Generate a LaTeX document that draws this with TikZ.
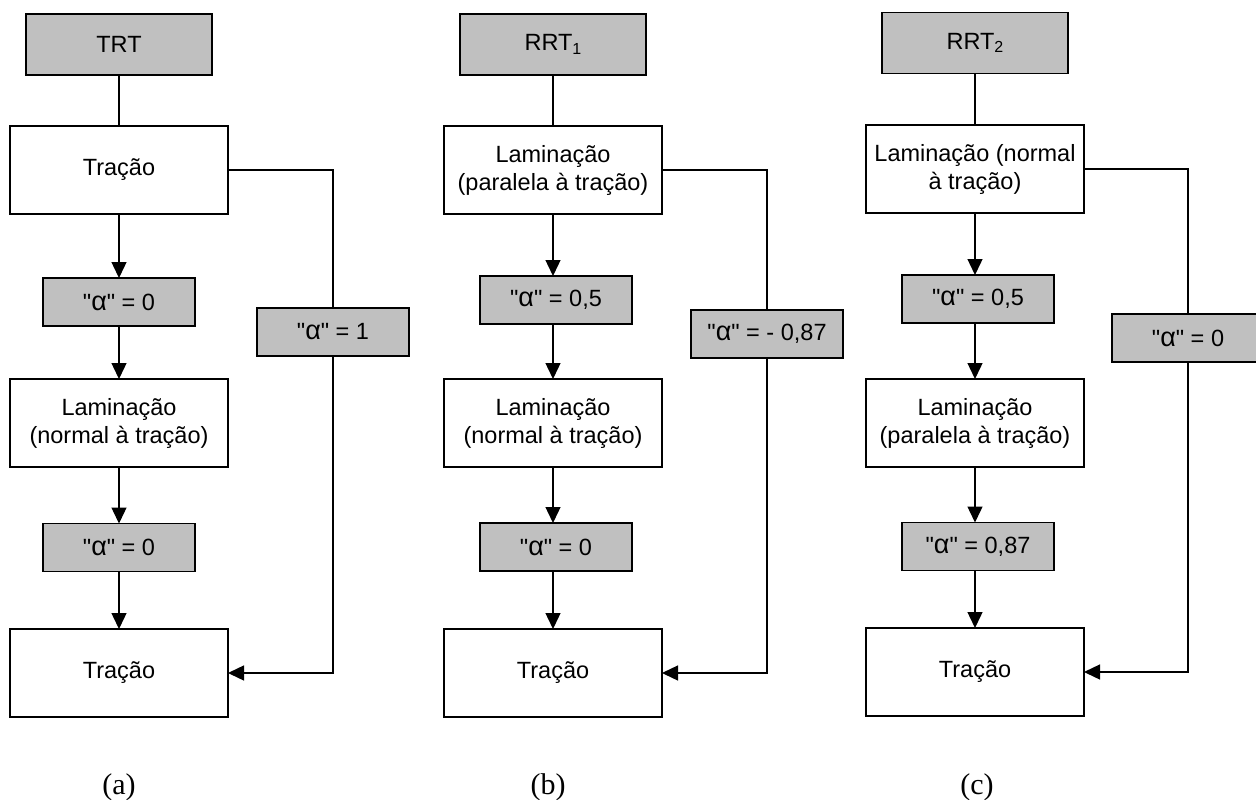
\documentclass[tikz,border=0pt]{standalone}
\usepackage{fontspec}
\setmainfont{Liberation Sans}
\newfontfamily\capfont{Liberation Serif}
\usetikzlibrary{arrows.meta}
\definecolor{boxgray}{HTML}{C0C0C0}
\newcommand{\qalpha}{\textquotedbl{\fontsize{27}{28}\selectfont α}\textquotedbl}
\newcommand{\subidx}[1]{\raisebox{-0.28ex}{\fontsize{16}{16}\selectfont #1}}
\tikzset{
  base/.style={draw=black, line width=1.6pt, inner sep=0pt, outer sep=0pt, align=center,
    font=\fontsize{23.5}{28}\selectfont},
  headbox/.style={base, fill=boxgray, minimum width=186pt, minimum height=61pt},
  procbox/.style={base, fill=white, minimum width=218pt, minimum height=88pt},
  alphabox/.style={base, fill=boxgray, minimum width=152pt, minimum height=48pt},
  conn/.style={line width=1.4pt},
  arr/.style={conn, -{Triangle[length=16pt,width=15pt]}},
  caplabel/.style={anchor=base, font=\capfont\fontsize{30}{34}\selectfont, inner sep=0pt}
}
\begin{document}
\begin{tikzpicture}[x=1pt,y=-1pt]
\useasboundingbox (0,0) rectangle (1256,800);
% ---------- panel (a)
\node[headbox]  (aH)  at (119,44.5) {TRT};
\node[procbox]  (aT1) at (119,170)  {Tração};
\node[alphabox] (aA1) at (119,302)  {\qalpha\ = 0};
\node[alphabox] (aS)  at (333,332)  {\qalpha\ = 1};
\node[procbox]  (aL)  at (119,423)  {Laminação\\(normal à tração)};
\node[alphabox] (aA2) at (119,547.5){\qalpha\ = 0};
\node[procbox]  (aT2) at (119,673)  {Tração};
\draw[conn] (aH) -- (aT1);
\draw[arr] (aT1) -- (aA1);
\draw[arr] (aA1) -- (aL);
\draw[arr] (aL) -- (aA2);
\draw[arr] (aA2) -- (aT2);
\draw[conn] (aT1.east) -| (aS.north);
\draw[arr] (aS.south) |- (aT2.east);
\node[caplabel] (la) at (119,794) {(a)};
% ---------- panel (b)
\node[headbox]  (bH)  at (553,44.5) {RRT\subidx{1}};
\node[procbox]  (bL1) at (553,170)  {Laminação\\(paralela à tração)};
\node[alphabox] (bA1) at (556,300)  {\qalpha\ = 0,5};
\node[alphabox] (bS)  at (767,334)  {\qalpha\ = - 0,87};
\node[procbox]  (bL2) at (553,423)  {Laminação\\(normal à tração)};
\node[alphabox] (bA2) at (556,547)  {\qalpha\ = 0};
\node[procbox]  (bT)  at (553,673)  {Tração};
\draw[conn] (bH) -- (bL1);
\draw[arr] (bL1) -- (bL1 |- bA1.north);
\draw[arr] (bA1.south -| bL1) -- (bL2);
\draw[arr] (bL2) -- (bL2 |- bA2.north);
\draw[arr] (bA2.south -| bL2) -- (bT);
\draw[conn] (bL1.east) -| (bS.north);
\draw[arr] (bS.south) |- (bT.east);
\node[caplabel] (lb) at (548,794) {(b)};
% ---------- panel (c)
\node[headbox]  (cH)  at (975,43)  {RRT\subidx{2}};
\node[procbox]  (cL1) at (975,169) {Laminação (normal\\à tração)};
\node[alphabox] (cA1) at (978,299) {\qalpha\ = 0,5};
\node[alphabox] (cS)  at (1188,338){\qalpha\ = 0};
\node[procbox]  (cL2) at (975,423) {Laminação\\(paralela à tração)};
\node[alphabox] (cA2) at (978,546.5){\qalpha\ = 0,87};
\node[procbox]  (cT)  at (975,672) {Tração};
\draw[conn] (cH) -- (cL1);
\draw[arr] (cL1) -- (cL1 |- cA1.north);
\draw[arr] (cA1.south -| cL1) -- (cL2);
\draw[arr] (cL2) -- (cL2 |- cA2.north);
\draw[arr] (cA2.south -| cL2) -- (cT);
\draw[conn] (cL1.east) -| (cS.north);
\draw[arr] (cS.south) |- (cT.east);
\node[caplabel] (lc) at (977,794) {(c)};
\end{tikzpicture}
\end{document}
